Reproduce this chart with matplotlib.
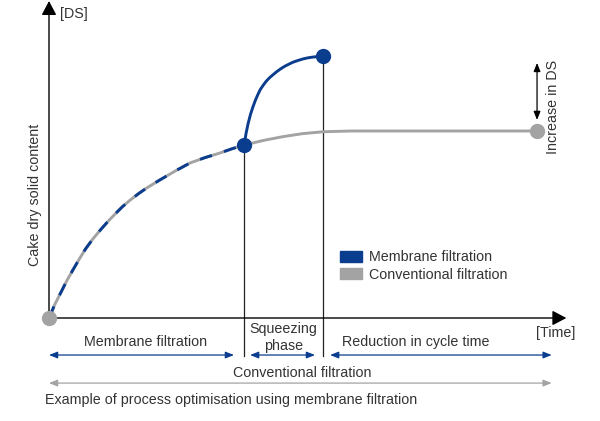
import matplotlib.pyplot as plt
from matplotlib.patches import Patch

plt.rcParams['font.family'] = ['Liberation Sans', 'DejaVu Sans']

# 颜色
blue = '#0b3d8f'
gray = '#a3a3a3'
dark = '#222222'

# 常规过滤曲线 (时间, DS)
conv_t = [0, 0.12, 0.25, 0.37, 0.49, 0.62, 0.75, 0.9, 1.05, 1.2, 1.35, 1.5, 1.66, 1.83, 2.0,
          2.27, 2.6, 2.89, 3.2, 3.5, 3.75, 4.0, 4.4, 4.8, 5.2, 5.62, 6.2, 10.0]
conv_ds = [0, 7.3, 14, 20.2, 25.7, 31.5, 37, 42.3, 47, 51.4, 55.5, 59.4, 63, 66.4, 69.5,
           73.8, 78.8, 82.9, 85.8, 88.2, 90.5, 92.5, 95, 97, 98.6, 99.6, 100, 100]

# 隔膜压榨曲线 (压榨阶段)
sq_t = [4.0, 4.02, 4.04, 4.08, 4.13, 4.18, 4.23, 4.28, 4.33, 4.39, 4.45, 4.52, 4.6, 4.67,
        4.75, 4.83, 4.92, 5.0, 5.1, 5.2, 5.3, 5.4, 5.5, 5.62]
sq_ds = [92.5, 96, 99, 104, 109, 113, 116.5, 119.5, 122.2, 124.5, 126.6, 128.5, 130.3, 131.8,
         133.3, 134.6, 135.8, 136.8, 137.7, 138.5, 139.1, 139.5, 139.8, 140]

t_membrane = 4.0
t_squeeze = 5.62
t_conv = 10.0

fig = plt.figure(figsize=(6, 4.21), dpi=100)
ax = fig.add_axes([0, 0, 1, 1])
ax.set_xlim(-1.004, 11.29)
ax.set_ylim(-55.08, 170.05)
ax.axis('off')

# 坐标轴箭头
ax.annotate('', xy=(0, 169.5), xytext=(0, 0),
            arrowprops=dict(arrowstyle='-|>,head_length=0.85,head_width=0.45', color='black',
                            lw=1.0, mutation_scale=10, shrinkA=0, shrinkB=0))
ax.annotate('', xy=(10.6, 0), xytext=(0, 0),
            arrowprops=dict(arrowstyle='-|>,head_length=0.85,head_width=0.45', color='black',
                            lw=1.0, mutation_scale=10, shrinkA=0, shrinkB=0))

# 竖线
ax.plot([t_membrane, t_membrane], [92.5, -20.5], color=dark, lw=0.9, zorder=1)
ax.plot([t_squeeze, t_squeeze], [140, -20.5], color=dark, lw=0.9, zorder=1)

# 曲线
ax.plot(conv_t, conv_ds, color=gray, lw=2.1, zorder=2, solid_capstyle='butt',
        solid_joinstyle='round')
mem = [i for i, t in enumerate(conv_t) if t <= t_membrane]
ax.plot([conv_t[i] for i in mem], [conv_ds[i] for i in mem], color=blue, lw=2.1,
        dashes=(4.3, 4.3), zorder=3)
ax.plot(sq_t, sq_ds, color=blue, lw=2.1, zorder=3, solid_joinstyle='round')

# 点
ax.plot([0, t_conv], [0, 100], 'o', color=gray, ms=10, zorder=4)
ax.plot([t_membrane, t_squeeze], [92.5, 140], 'o', color=blue, ms=10, zorder=4)

# 文本
fs = 10.3
tc = '#333333'
ax.text(0.22, 162.6, '[DS]', fontsize=fs, color=tc, va='center', ha='left')
ax.text(-0.29, 65.8, 'Cake dry solid content', fontsize=fs, color=tc, rotation=90,
        va='center', ha='center')
ax.text(10.39, -8, '[Time]', fontsize=fs, color=tc, va='center', ha='center')
ax.text(1.97, -12.8, 'Membrane filtration', fontsize=fs, color=tc, va='center', ha='center')
ax.text(4.8, -10.3, 'Squeezing\nphase', fontsize=fs, color=tc, va='center', ha='center',
        linespacing=1.3)
ax.text(7.52, -12.8, 'Reduction in cycle time', fontsize=fs, color=tc, va='center', ha='center')
ax.text(5.18, -29.4, 'Conventional filtration', fontsize=fs, color=tc, va='center', ha='center')
ax.text(-0.08, -43.9, 'Example of process optimisation using membrane filtration', fontsize=fs,
        color=tc, va='center', ha='left')
ax.text(10.33, 112.8, 'Increase in DS', fontsize=fs, color=tc, rotation=90,
        va='center', ha='center')

# 下方箭头
small = dict(arrowstyle='<|-|>,head_length=0.5,head_width=0.2', lw=0.9, mutation_scale=10,
             shrinkA=0, shrinkB=0)
for a, b in [(0, 3.79), (4.12, 5.45), (5.76, 10.3)]:
    ax.annotate('', xy=(b, -19.8), xytext=(a, -19.8), arrowprops=dict(color=blue, **small))
ax.annotate('', xy=(10.3, -34.8), xytext=(0, -34.8), arrowprops=dict(color=gray, **small))
ax.annotate('', xy=(t_conv, 136.4), xytext=(t_conv, 105.9),
            arrowprops=dict(color='black', **small))

# 图例
handles = [Patch(color=blue, label='Membrane filtration'),
           Patch(color=gray, label='Conventional filtration')]
leg = ax.legend(handles=handles, loc='upper left', bbox_to_anchor=(340 / 600, 1 - 250 / 421),
                frameon=False, fontsize=fs, handlelength=1.55, handleheight=0.8,
                handletextpad=0.45, labelspacing=0.25, borderpad=0, borderaxespad=0)
for txt in leg.get_texts():
    txt.set_color(tc)

fig.savefig('out.png', dpi=100)
